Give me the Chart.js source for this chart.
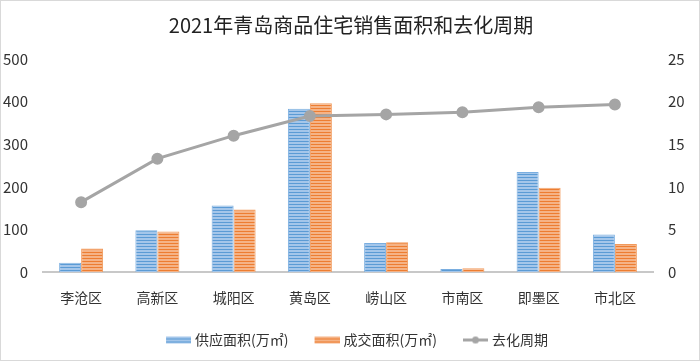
<!DOCTYPE html>
<html lang="zh">
<head>
  <meta charset="UTF-8">
  <title>2021年青岛商品住宅销售面积和去化周期</title>
  <script src="https://cdn.jsdelivr.net/npm/chart.js"></script>
  <style>
    html, body { margin: 0; padding: 0; background: #fff; }
    #wrap { width: 700px; height: 361px; }
  </style>
</head>
<body>
  <div id="wrap"><canvas id="chart" width="700" height="361"></canvas></div>

  <script>
    // 数据
    const districts = ['李沧区', '高新区', '城阳区', '黄岛区', '崂山区', '市南区', '即墨区', '市北区'];
    const supplyArea = [22, 98, 156, 383, 68, 7, 235, 88];     // 供应面积(万㎡)
    const dealArea = [55, 95, 147, 396, 70, 9, 198, 66];        // 成交面积(万㎡)
    const cycle = [8.2, 13.3, 16.0, 18.3, 18.5, 18.75, 19.35, 19.65]; // 去化周期
    const leftTicks = [0, 100, 200, 300, 400, 500];
    const rightTicks = [0, 5, 10, 15, 20, 25];

    const FONT = '"Noto Sans CJK SC", "Noto Sans", sans-serif';

    // 横条纹填充
    function stripes(dark, light) {
      const c = document.createElement('canvas');
      c.width = 4; c.height = 3;
      const g = c.getContext('2d');
      g.fillStyle = light; g.fillRect(0, 0, 4, 3);
      g.fillStyle = dark; g.fillRect(0, 0, 4, 1);
      return g.createPattern(c, 'repeat');
    }
    const bluePat = stripes('#5b9bd5', '#a4c6ea');
    const orangePat = stripes('#ed7d31', '#f5b386');

    // 图例小图标（左边留白，用来拉开图例间距）
    function swatch(kind) {
      const c = document.createElement('canvas');
      c.width = 40; c.height = 9;
      const g = c.getContext('2d');
      if (kind === 'line') {
        g.strokeStyle = '#a5a5a5'; g.lineWidth = 3;
        g.beginPath(); g.moveTo(15, 4.5); g.lineTo(40, 4.5); g.stroke();
        g.fillStyle = '#a5a5a5';
        g.beginPath(); g.arc(27.5, 4.5, 3.5, 0, Math.PI * 2); g.fill();
      } else {
        g.fillStyle = kind === 'blue' ? bluePat : orangePat;
        g.fillRect(15, 1, 25, 7);
      }
      return c;
    }
    const legendIcons = [swatch('blue'), swatch('orange'), swatch('line')];

    const frame = {
      id: 'frame',
      beforeDraw(chart) {
        const ctx = chart.ctx;
        ctx.save();
        ctx.fillStyle = '#fff';
        ctx.fillRect(0, 0, chart.width, chart.height);
        ctx.strokeStyle = '#d9d9d9';
        ctx.lineWidth = 1;
        ctx.strokeRect(0.5, 0.5, chart.width - 1, chart.height - 1);
        ctx.restore();
      }
    };

    new Chart(document.getElementById('chart'), {
      type: 'bar',
      data: {
        labels: districts,
        datasets: [
          {
            label: '供应面积(万㎡)',
            data: supplyArea,
            backgroundColor: bluePat,
            borderColor: '#7aaee0',
            borderWidth: 1,
            yAxisID: 'y',
            order: 1
          },
          {
            label: '成交面积(万㎡)',
            data: dealArea,
            backgroundColor: orangePat,
            borderColor: '#f19a5c',
            borderWidth: 1,
            yAxisID: 'y',
            order: 1
          },
          {
            type: 'line',
            label: '去化周期',
            data: cycle,
            borderColor: '#a5a5a5',
            backgroundColor: '#a5a5a5',
            borderWidth: 3,
            pointRadius: 4.5,
            pointHoverRadius: 4.5,
            tension: 0,
            yAxisID: 'y1',
            order: 0
          }
        ]
      },
      options: {
        responsive: false,
        animation: false,
        layout: { padding: { left: 2, right: 0, top: 0, bottom: 4 } },
        datasets: {
          bar: { categoryPercentage: 0.577, barPercentage: 1.0 }
        },
        scales: {
          x: {
            grid: { display: false, drawTicks: false },
            border: { display: true, color: '#c8c8c8', width: 2 },
            ticks: { color: '#333', font: { family: FONT, size: 14 }, padding: 17 },
            afterFit(scale) { scale.height = 47; }
          },
          y: {
            position: 'left',
            min: 0, max: 500,
            afterBuildTicks(axis) { axis.ticks = leftTicks.map(v => ({ value: v })); },
            grid: { display: false, drawTicks: false },
            border: { display: false },
            ticks: { color: '#333', font: { family: FONT, size: 15 }, padding: 15 },
            afterFit(scale) { scale.width = 41; }
          },
          y1: {
            position: 'right',
            min: 0, max: 25,
            afterBuildTicks(axis) { axis.ticks = rightTicks.map(v => ({ value: v })); },
            grid: { display: false, drawTicks: false },
            border: { display: false },
            ticks: { color: '#333', font: { family: FONT, size: 15 }, padding: 15 },
            afterFit(scale) { scale.width = 47; }
          }
        },
        plugins: {
          title: {
            display: true,
            text: '2021年青岛商品住宅销售面积和去化周期',
            color: '#222',
            font: { family: FONT, size: 20, weight: 'normal', lineHeight: 1.2 },
            padding: { top: 13.5, bottom: 21.5 }
          },
          legend: {
            position: 'bottom',
            labels: {
              usePointStyle: true,
              pointStyleWidth: 34,
              color: '#333',
              font: { family: FONT, size: 14 },
              padding: 14,
              generateLabels(chart) {
                return chart.data.datasets.map((ds, i) => ({
                  text: ds.label,
                  pointStyle: legendIcons[i],
                  fillStyle: 'transparent',
                  strokeStyle: 'transparent',
                  lineWidth: 0,
                  fontColor: '#333',
                  datasetIndex: i,
                  hidden: false
                }));
              }
            }
          },
          tooltip: { enabled: false }
        }
      },
      plugins: [frame]
    });
  </script>
</body>
</html>
